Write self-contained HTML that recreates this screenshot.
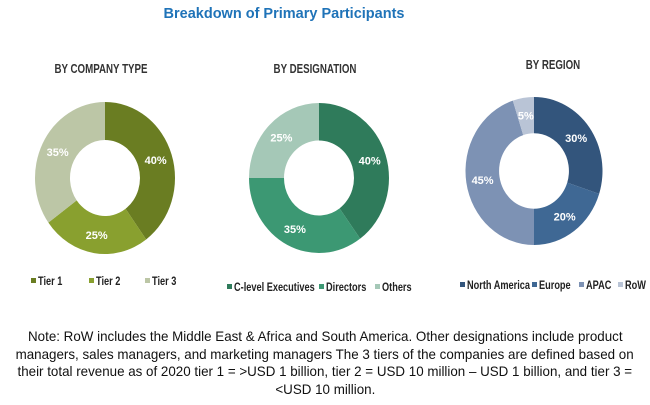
<!DOCTYPE html>
<html><head><meta charset="utf-8"><style>
body{margin:0;background:#fff;width:650px;height:405px;overflow:hidden;font-family:"Liberation Sans",sans-serif}
svg{position:absolute;left:0;top:0}
.note{position:absolute;left:0;top:328px;width:650px;text-align:center;font-size:14px;line-height:17.5px;color:#111;white-space:nowrap}
.note span{display:inline-block;transform:scaleX(0.955);transform-origin:center}
</style></head><body>
<svg id="chart" width="650" height="405">
<text x="284" y="18" text-anchor="middle" font-size="14.5" font-weight="bold" fill="#1f73b8">Breakdown of Primary Participants</text>
<g id="g"></g>
</svg>
<div class="note"><span>Note: RoW includes the Middle East &amp; Africa and South America. Other designations include product</span><br><span>managers, sales managers, and marketing managers The 3 tiers of the companies are defined based on</span><br><span>their total revenue as of 2020 tier 1 = &gt;USD 1 billion, tier 2 = USD 10 million – USD 1 billion, and tier 3 =</span><br><span>&lt;USD 10 million.</span></div>
<script>
const companyLabels=["Tier 1","Tier 2","Tier 3"];
const companyValues=[40,25,35];
const designationLabels=["C-level Executives","Directors","Others"];
const designationValues=[40,35,25];
const regionLabels=["North America","Europe","APAC","RoW"];
const regionValues=[30,20,45,5];
const charts=[
 {name:"company-type",title:"BY COMPANY TYPE",labels:companyLabels,values:companyValues,colors:["#6a7d22","#89a02f","#bcc6a6"],cx:105,cy:178,rx:70,ry:76,ir:0.5,tx:101,ty:73,legY:285,legX:[38,96,152]},
 {name:"designation",title:"BY DESIGNATION",labels:designationLabels,values:designationValues,colors:["#2f7b5b","#3c9873","#a5c8b7"],cx:319,cy:178,rx:70,ry:75,ir:0.5,tx:315,ty:73,legY:291,legX:[234,326,382]},
 {name:"region",title:"BY REGION",labels:regionLabels,values:regionValues,colors:["#33557c","#3f6894","#7d92b4","#b9c4d6"],cx:534,cy:171,rx:68.5,ry:74,ir:0.51,tx:553,ty:69,legY:289,legX:[467,539,586,625]}
];
const g=document.getElementById('g');
const NS="http://www.w3.org/2000/svg";
function mk(t,a){const e=document.createElementNS(NS,t);for(const k in a)e.setAttribute(k,a[k]);return e;}
function pt(c,f,r){const a=f*2*Math.PI;return [c.cx+Math.sin(a)*c.rx*r,c.cy-Math.cos(a)*c.ry*r];}
charts.forEach(c=>{
 const t=mk('text',{x:c.tx,y:c.ty,'text-anchor':'middle','font-size':'12.5','font-weight':'bold',fill:'#333',transform:`translate(${c.tx},0) scale(0.78,1) translate(${-c.tx},0)`});
 t.textContent=c.title;
 
 
 g.appendChild(t);
 const tot=c.values.reduce((a,b)=>a+b,0);let acc=0;
 c.values.forEach((v,i)=>{
  const f0=acc/tot,f1=(acc+v)/tot;acc+=v;
  const [x0,y0]=pt(c,f0,1),[x1,y1]=pt(c,f1,1),[x2,y2]=pt(c,f1,c.ir),[x3,y3]=pt(c,f0,c.ir);
  const lg=(f1-f0)>0.5?1:0;
  const p=mk('path',{d:`M${x0},${y0}A${c.rx},${c.ry} 0 ${lg} 1 ${x1},${y1}L${x2},${y2}A${c.rx*c.ir},${c.ry*c.ir} 0 ${lg} 0 ${x3},${y3}Z`,fill:c.colors[i]});
  
  
  g.appendChild(p);
  const [lx,ly]=pt(c,(f0+f1)/2,0.76);
  const l=mk('text',{x:lx,y:ly+4,'text-anchor':'middle','font-size':'11','font-weight':'bold',fill:'#fff'});
  l.textContent=v+'%';
  
  
  g.appendChild(l);
  const r=mk('rect',{x:c.legX[i]-7,y:c.legY-7,width:5,height:5,fill:c.colors[i]});
  
  
  g.appendChild(r);
  const lt=mk('text',{x:c.legX[i],y:c.legY,'font-size':'11.5','font-weight':'bold',fill:'#222',transform:`translate(${c.legX[i]},0) scale(0.8,1) translate(${-c.legX[i]},0)`});
  lt.textContent=c.labels[i];
  
  
  g.appendChild(lt);
 });
});
</script>
</body></html>
